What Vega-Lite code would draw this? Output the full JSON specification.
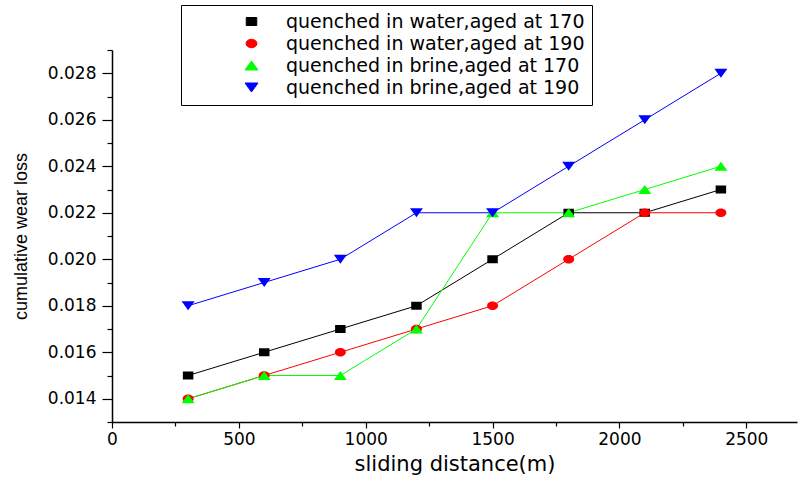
{
  "$schema": "https://vega.github.io/schema/vega-lite/v6.json",
  "width": 685,
  "height": 372,
  "autosize": "none",
  "padding": {"left": 112, "top": 50, "right": 2, "bottom": 59},
  "background": "white",
  "config": {"view": {"stroke": null}},
  "data": {
    "values": [
      {"x": 300, "y": 0.015, "series": "quenched in water,aged at 170"},
      {"x": 600, "y": 0.016, "series": "quenched in water,aged at 170"},
      {"x": 900, "y": 0.017, "series": "quenched in water,aged at 170"},
      {"x": 1200, "y": 0.018, "series": "quenched in water,aged at 170"},
      {"x": 1500, "y": 0.020, "series": "quenched in water,aged at 170"},
      {"x": 1800, "y": 0.022, "series": "quenched in water,aged at 170"},
      {"x": 2100, "y": 0.022, "series": "quenched in water,aged at 170"},
      {"x": 2400, "y": 0.023, "series": "quenched in water,aged at 170"},
      {"x": 300, "y": 0.014, "series": "quenched in water,aged at 190"},
      {"x": 600, "y": 0.015, "series": "quenched in water,aged at 190"},
      {"x": 900, "y": 0.016, "series": "quenched in water,aged at 190"},
      {"x": 1200, "y": 0.017, "series": "quenched in water,aged at 190"},
      {"x": 1500, "y": 0.018, "series": "quenched in water,aged at 190"},
      {"x": 1800, "y": 0.020, "series": "quenched in water,aged at 190"},
      {"x": 2100, "y": 0.022, "series": "quenched in water,aged at 190"},
      {"x": 2400, "y": 0.022, "series": "quenched in water,aged at 190"},
      {"x": 300, "y": 0.014, "series": "quenched in brine,aged at 170"},
      {"x": 600, "y": 0.015, "series": "quenched in brine,aged at 170"},
      {"x": 900, "y": 0.015, "series": "quenched in brine,aged at 170"},
      {"x": 1200, "y": 0.017, "series": "quenched in brine,aged at 170"},
      {"x": 1500, "y": 0.022, "series": "quenched in brine,aged at 170"},
      {"x": 1800, "y": 0.022, "series": "quenched in brine,aged at 170"},
      {"x": 2100, "y": 0.023, "series": "quenched in brine,aged at 170"},
      {"x": 2400, "y": 0.024, "series": "quenched in brine,aged at 170"},
      {"x": 300, "y": 0.018, "series": "quenched in brine,aged at 190"},
      {"x": 600, "y": 0.019, "series": "quenched in brine,aged at 190"},
      {"x": 900, "y": 0.020, "series": "quenched in brine,aged at 190"},
      {"x": 1200, "y": 0.022, "series": "quenched in brine,aged at 190"},
      {"x": 1500, "y": 0.022, "series": "quenched in brine,aged at 190"},
      {"x": 1800, "y": 0.024, "series": "quenched in brine,aged at 190"},
      {"x": 2100, "y": 0.026, "series": "quenched in brine,aged at 190"},
      {"x": 2400, "y": 0.028, "series": "quenched in brine,aged at 190"}
    ]
  },
  "encoding": {
    "x": {
      "field": "x",
      "type": "quantitative",
      "scale": {"domain": [0, 2700], "nice": false, "zero": false},
      "axis": {
        "title": "sliding distance(m)",
        "values": [0, 250, 500, 750, 1000, 1250, 1500, 1750, 2000, 2250, 2500],
        "format": "d",
        "labelExpr": "datum.value % 500 === 0 ? datum.label : ''",
        "tickSize": {"condition": {"test": "datum.value % 500 === 0", "value": 6}, "value": 4},
        "grid": false,
        "labelFlush": false,
        "labelOverlap": false,
        "domainColor": "black",
        "domainWidth": 1.5,
        "tickColor": "black",
        "tickWidth": 1.2,
        "labelFont": "DejaVu Sans",
        "labelFontSize": 17,
        "labelColor": "black",
        "labelPadding": 3,
        "titleFont": "DejaVu Sans",
        "titleFontSize": 21,
        "titleFontWeight": "normal",
        "titleColor": "black",
        "titlePadding": 6
      }
    },
    "y": {
      "field": "y",
      "type": "quantitative",
      "scale": {"domain": [0.013, 0.029], "nice": false, "zero": false},
      "axis": {
        "title": "cumulative wear loss",
        "values": [0.013, 0.014, 0.015, 0.016, 0.017, 0.018, 0.019, 0.02, 0.021, 0.022, 0.023, 0.024, 0.025, 0.026, 0.027, 0.028, 0.029],
        "labelExpr": "round(datum.value * 1000) % 2 === 0 ? format(datum.value, '.3f') : ''",
        "tickSize": {"condition": {"test": "round(datum.value * 1000) % 2 === 0", "value": 10}, "value": 5},
        "grid": false,
        "labelFlush": false,
        "labelOverlap": false,
        "domainColor": "black",
        "domainWidth": 1.5,
        "tickColor": "black",
        "tickWidth": 1.2,
        "labelFont": "DejaVu Sans",
        "labelFontSize": 17,
        "labelColor": "black",
        "labelPadding": 6,
        "titleFont": "Liberation Sans",
        "titleFontSize": 18,
        "titleFontWeight": "normal",
        "titleColor": "black",
        "titlePadding": 17
      }
    },
    "color": {
      "field": "series",
      "type": "nominal",
      "scale": {
        "domain": ["quenched in water,aged at 170", "quenched in water,aged at 190", "quenched in brine,aged at 170", "quenched in brine,aged at 190"],
        "range": ["#000000", "#ff0000", "#00ff00", "#0000ff"]
      },
      "legend": {
        "title": null,
        "orient": "none",
        "legendX": 69,
        "legendY": -45,
        "padding": 7,
        "strokeColor": "black",
        "fillColor": "white",
        "symbolSize": 100,
        "symbolStrokeWidth": 1,
        "symbolOpacity": 1,
        "symbolOffset": 54,
        "labelOffset": 25,
        "labelFont": "DejaVu Sans",
        "labelFontSize": 19,
        "labelColor": "black",
        "labelLimit": 1000,
        "rowPadding": 2,
        "encode": {
          "symbols": {
            "update": {
              "fill": {"scale": "color", "field": "value"},
              "stroke": {"scale": "color", "field": "value"}
            }
          }
        }
      }
    }
  },
  "layer": [
    {
      "mark": {"type": "line", "strokeWidth": 1},
      "encoding": {}
    },
    {
      "mark": {"type": "point", "filled": true, "opacity": 1, "size": 100},
      "encoding": {
        "shape": {
          "field": "series",
          "type": "nominal",
          "scale": {
            "domain": ["quenched in water,aged at 170", "quenched in water,aged at 190", "quenched in brine,aged at 170", "quenched in brine,aged at 190"],
            "range": [
              "M-1.05,-0.8H1.05V0.8H-1.05Z",
              "M1.1,0A1.1,0.85,0,1,1,-1.1,0A1.1,0.85,0,1,1,1.1,0Z",
              "M0,-0.9L1.3,0.9L-1.3,0.9Z",
              "M0,0.9L1.3,-0.9L-1.3,-0.9Z"
            ]
          },
          "legend": {
            "title": null,
            "orient": "none",
            "legendX": 69,
            "legendY": -45,
            "padding": 7,
            "strokeColor": "black",
            "fillColor": "white",
            "symbolSize": 100,
            "symbolStrokeWidth": 1,
            "symbolOpacity": 1,
            "symbolOffset": 54,
            "labelOffset": 25,
            "labelFont": "DejaVu Sans",
            "labelFontSize": 19,
            "labelColor": "black",
            "labelLimit": 1000,
            "rowPadding": 2,
            "encode": {
              "symbols": {
                "update": {
                  "fill": {"scale": "color", "field": "value"},
                  "stroke": {"scale": "color", "field": "value"}
                }
              }
            }
          }
        }
      }
    }
  ]
}
